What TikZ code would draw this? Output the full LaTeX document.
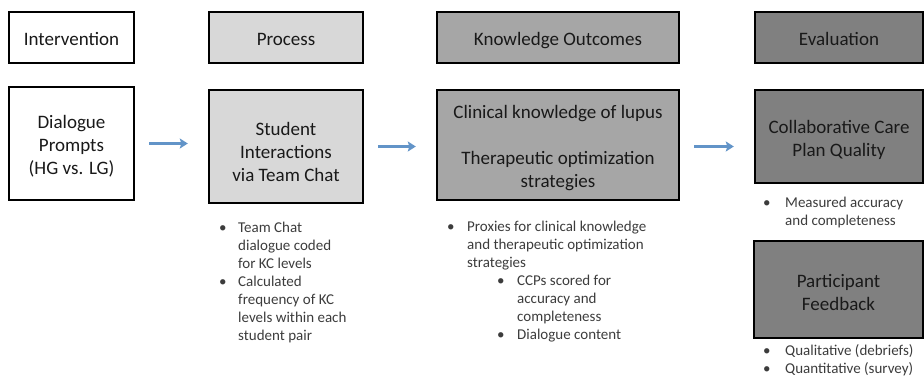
\documentclass[tikz,border=0pt]{standalone}
\usepackage{fontspec}
\setmainfont{Carlito}
\usetikzlibrary{arrows.meta,shadows}

\definecolor{procgray}{RGB}{216,216,216}
\definecolor{knowgray}{RGB}{166,166,166}
\definecolor{evalgray}{RGB}{128,128,128}
\definecolor{flowblue}{RGB}{98,148,200}
\definecolor{listtext}{RGB}{60,60,60}
\definecolor{boxtext}{RGB}{25,25,25}

\newcommand{\boxfont}{\fontsize{19}{23}\selectfont}
\newcommand{\listfont}{\fontsize{15}{18}\selectfont}
% centred lines of a stage box, set a little below the box centre
\newcommand{\stagetext}[2][7pt]{\raisebox{0pt}[\dimexpr\height+#1\relax][\depth]{%
  \begin{tabular}{@{}c@{}}#2\end{tabular}}}

\tikzset{
  stage/.style={draw=black, line width=2.4pt, inner sep=0pt,
    text=boxtext, font=\boxfont,
    drop shadow={shadow xshift=1pt, shadow yshift=-1.2pt, opacity=0.25}},
  flow/.style={draw=flowblue, line width=2.6pt,
    -{Stealth[length=8pt,width=10pt,inset=1.5pt]},
    shorten <=14pt, shorten >=20pt},
  notes/.style={anchor=north west, inner sep=0pt, text=listtext, font=\listfont},
}

\begin{document}
\begin{tikzpicture}[x=1pt,y=-1pt]
\useasboundingbox (0,0) rectangle (924,378);

% column headings
\node[stage, fill=white,    minimum width=125pt, minimum height=51pt] (int)  at (71.5,37.5) {\stagetext{Intervention}};
\node[stage, fill=procgray, minimum width=154pt, minimum height=51pt] (proc) at (286,37.5)  {\stagetext{Process}};
\node[stage, fill=knowgray, minimum width=242pt, minimum height=51pt] (know) at (558,37.5)  {\stagetext{Knowledge Outcomes}};
\node[stage, fill=evalgray, minimum width=168pt, minimum height=51pt] (eval) at (839,37.5)  {\stagetext{Evaluation}};

% main flow boxes
\node[stage, fill=white,    minimum width=125pt, minimum height=113pt] (dp) at (71.5,143.5)
  {\stagetext{Dialogue\\Prompts\\(HG vs. LG)}};
\node[stage, fill=procgray, minimum width=154pt, minimum height=113pt] (si) at (286,146.5)
  {\stagetext[15pt]{Student\\Interactions\\via Team Chat}};
\node[stage, fill=knowgray, minimum width=242pt, minimum height=110pt] (ko) at (558,145)
  {\stagetext{Clinical knowledge of lupus\\ \\Therapeutic optimization\\strategies}};
\node[stage, fill=evalgray, minimum width=168pt, minimum height=93pt] (cc) at (839,136.5)
  {\stagetext{Collaborative Care\\Plan Quality}};
\node[stage, fill=evalgray, minimum width=169pt, minimum height=97pt] (pf) at (838.5,289.5)
  {\stagetext[9pt]{Participant\\Feedback}};

% arrows between stages
\draw[flow] (dp.east) -- (dp.east -| si.west);
\draw[flow] (si.east) -- (si.east -| ko.west);
\draw[flow] (ko.east |- si.east) -- (si.east -| cc.west);

% notes under the boxes
\node[notes] (siNotes) at (219,219.5) {%
  \begin{tabular}{@{}p{19pt}@{}l@{}}
  \textbullet & Team Chat\\
              & dialogue coded\\
              & for KC levels\\
  \textbullet & Calculated\\
              & frequency of KC\\
              & levels within each\\
              & student pair
  \end{tabular}};

\node[notes] (koNotes) at (447,218.5) {%
  \begin{tabular}{@{}p{20pt}@{}l@{}}
  \textbullet & Proxies for clinical knowledge\\
              & and therapeutic optimization\\
              & strategies
  \end{tabular}};

\node[notes] (koSub) at (497,272.5) {%
  \begin{tabular}{@{}p{20pt}@{}l@{}}
  \textbullet & CCPs scored for\\
              & accuracy and\\
              & completeness\\
  \textbullet & Dialogue content
  \end{tabular}};

\node[notes] (ccNotes) at (763,194.5) {%
  \begin{tabular}{@{}p{22pt}@{}l@{}}
  \textbullet & Measured accuracy\\
              & and completeness
  \end{tabular}};

\node[notes] (pfNotes) at (763,342.5) {%
  \begin{tabular}{@{}p{22pt}@{}l@{}}
  \textbullet & Qualitative (debriefs)\\
  \textbullet & Quantitative (survey)
  \end{tabular}};
\end{tikzpicture}
\end{document}
